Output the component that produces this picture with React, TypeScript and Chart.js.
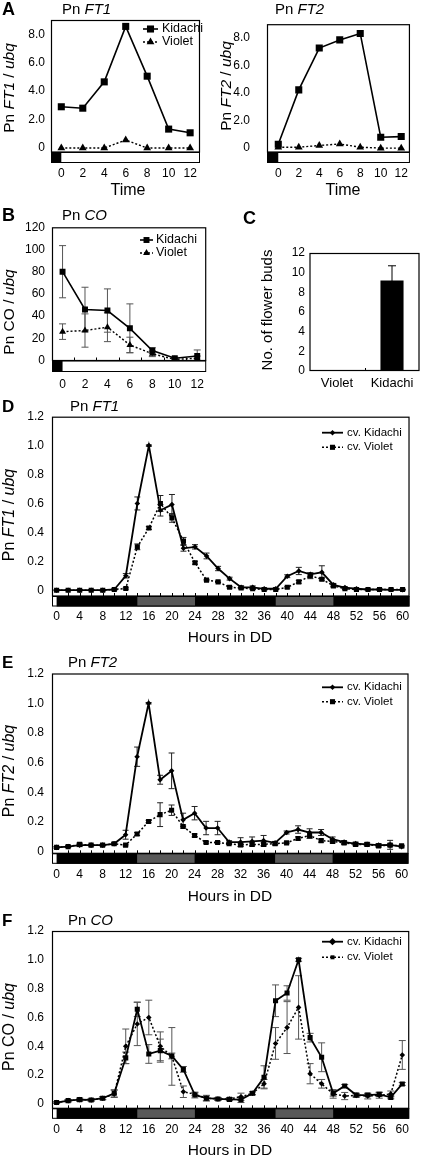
import { useEffect, useRef } from 'react';
import { Chart, registerables } from 'chart.js';

Chart.register(...registerables);

const FONT = '"Liberation Sans", Arial, Helvetica, sans-serif';

// ---------------- Data ----------------
// Panel A (0–12 h after lights-on)
const timeA = [0, 2, 4, 6, 8, 10, 12];
const timeTicksA = [0, 2, 4, 6, 8, 10, 12];
const ratioTicksA = [0, 2, 4, 6, 8];
const ft1KidachiA = [2.9, 2.8, 4.65, 8.55, 5.05, 1.33, 1.07];
const ft1VioletA = [0, 0, 0, 0.56, 0, 0, 0];
const ft2KidachiA = [0.28, 4.23, 7.27, 7.86, 8.33, 0.79, 0.84];
const ft2VioletA = [0.07, 0.07, 0.19, 0.3, 0.07, 0, 0];
const lightsOnA = 0;

// Panel B
const coTicksB = [0, 20, 40, 60, 80, 100, 120];
const coKidachiB = [80, 46, 45, 29, 9, 2, 4];
const coKidachiErrB = [23.5, 20, 19.5, 22, 2.5, 1, 5.5];
const coVioletB = [26, 27, 30, 14, 6, 1, 2];
const coVioletErrB = [7, 15, 13, 7, 2.5, 1, 2];
const minorTicksB = [1, 3, 5, 7, 9, 11];

// Panel C
const budCultivars = ['Violet', 'Kidachi'];
const budCounts = [0, 9.2];
const budErr = [0, 1.5];
const budTicks = [0, 2, 4, 6, 8, 10, 12];

// Panels D–F (continuous darkness)
const hoursDD = [0, 2, 4, 6, 8, 10, 12, 14, 16, 18, 20, 22, 24, 26, 28, 30, 32, 34, 36, 38, 40, 42, 44, 46, 48, 50, 52, 54, 56, 58, 60];
const hourTicksDD = [0, 4, 8, 12, 16, 20, 24, 28, 32, 36, 40, 44, 48, 52, 56, 60];
const relTicksDD = [0, 0.2, 0.4, 0.6, 0.8, 1.0, 1.2];
const darkFromDD = 0;
const subjectiveDayDD: [number, number][] = [[14, 24], [38, 48]];

const ft1KidachiD = [0, 0, 0, 0, 0, 0.005, 0.1, 0.6, 1.0, 0.553, 0.592, 0.29, 0.3, 0.237, 0.15, 0.08, 0.02, 0.02, 0.01, 0.01, 0.097, 0.133, 0.11, 0.124, 0.037, 0.018, 0.01, 0.005, 0.005, 0.003, 0.003];
const ft1KidachiErrD = [0.003, 0.003, 0.003, 0.003, 0.005, 0.005, 0.015, 0.045, 0.005, 0.04, 0.07, 0.02, 0.015, 0.02, 0.015, 0.01, 0.01, 0.01, 0.005, 0.005, 0.01, 0.025, 0.01, 0.045, 0.01, 0.005, 0.005, 0.003, 0.003, 0.003, 0.003];
const ft1VioletD = [0, 0, 0, 0, 0, 0.005, 0.012, 0.3, 0.43, 0.6, 0.5, 0.34, 0.19, 0.07, 0.058, 0.02, 0.015, 0.01, 0.005, 0.005, 0.02, 0.058, 0.1, 0.076, 0.03, 0.01, 0.005, 0.005, 0.005, 0.005, 0.005];
const ft1VioletErrD = [0.003, 0.003, 0.003, 0.003, 0.003, 0.003, 0.005, 0.02, 0.01, 0.055, 0.03, 0.025, 0.01, 0.005, 0.005, 0.005, 0.005, 0.005, 0.003, 0.003, 0.005, 0.01, 0.02, 0.01, 0.008, 0.005, 0.003, 0.003, 0.003, 0.003, 0.003];

const ft2KidachiE = [0.03, 0.035, 0.045, 0.045, 0.045, 0.054, 0.115, 0.64, 1.0, 0.485, 0.545, 0.215, 0.26, 0.16, 0.16, 0.065, 0.065, 0.07, 0.075, 0.06, 0.13, 0.15, 0.13, 0.13, 0.085, 0.065, 0.055, 0.05, 0.045, 0.047, 0.035];
const ft2KidachiErrE = [0.005, 0.005, 0.01, 0.005, 0.005, 0.008, 0.03, 0.065, 0.005, 0.03, 0.12, 0.045, 0.045, 0.045, 0.045, 0.01, 0.03, 0.03, 0.035, 0.01, 0.01, 0.025, 0.025, 0.02, 0.015, 0.01, 0.01, 0.01, 0.01, 0.03, 0.008];
const ft2VioletE = [0.03, 0.035, 0.05, 0.045, 0.045, 0.054, 0.045, 0.12, 0.204, 0.25, 0.28, 0.17, 0.11, 0.063, 0.063, 0.054, 0.047, 0.05, 0.05, 0.055, 0.06, 0.09, 0.11, 0.075, 0.07, 0.06, 0.05, 0.05, 0.04, 0.045, 0.04];
const ft2VioletErrE = [0.005, 0.005, 0.01, 0.005, 0.005, 0.005, 0.005, 0.01, 0.008, 0.08, 0.035, 0.01, 0.01, 0.005, 0.005, 0.005, 0.01, 0.01, 0.01, 0.01, 0.005, 0.01, 0.02, 0.01, 0.01, 0.01, 0.01, 0.01, 0.01, 0.01, 0.005];

const coKidachiF = [0.01, 0.023, 0.03, 0.028, 0.04, 0.074, 0.32, 0.657, 0.347, 0.37, 0.333, 0.24, 0.062, 0.04, 0.035, 0.032, 0.03, 0.074, 0.185, 0.716, 0.77, 1.0, 0.46, 0.324, 0.074, 0.125, 0.062, 0.062, 0.067, 0.046, 0.139];
const coKidachiErrF = [0.005, 0.008, 0.01, 0.008, 0.01, 0.025, 0.04, 0.05, 0.065, 0.08, 0.02, 0.02, 0.02, 0.015, 0.01, 0.01, 0.02, 0.01, 0.08, 0.11, 0.05, 0.01, 0.03, 0.1, 0.02, 0.01, 0.01, 0.01, 0.015, 0.01, 0.01];
const coVioletF = [0.01, 0.023, 0.03, 0.028, 0.04, 0.07, 0.4, 0.555, 0.6, 0.4, 0.33, 0.085, 0.067, 0.04, 0.035, 0.035, 0.05, 0.074, 0.14, 0.42, 0.53, 0.67, 0.21, 0.14, 0.07, 0.055, 0.06, 0.055, 0.06, 0.07, 0.34];
const coVioletErrF = [0.005, 0.008, 0.01, 0.008, 0.01, 0.025, 0.12, 0.15, 0.12, 0.1, 0.2, 0.04, 0.01, 0.02, 0.01, 0.01, 0.025, 0.01, 0.03, 0.11, 0.18, 0.22, 0.07, 0.03, 0.03, 0.025, 0.015, 0.02, 0.02, 0.02, 0.1];

// ---------------- Types ----------------
type Marker = 'rect' | 'rectRot' | 'triangle';
type Series = {
  label: string; x: number[]; y: number[]; err?: number[];
  dashed: boolean; marker: Marker; legendMarker?: Marker; radius: number; width: number;
};
type Txt = { x: number; y: number; parts: [string, boolean][]; size: number; bold?: boolean; rotate?: boolean; align?: CanvasTextAlign };
type Rect = { x: number; y: number; w: number; h: number };
type Area = { l: number; t: number; r: number; b: number };
type LinePanel = {
  rect: Rect; area: Area;
  xMin: number; xMax: number; xTicks: number[]; xPad: number;
  yMin: number; yMax: number; yTicks: number[]; yPad: number; yFmt: (v: number) => string;
  series: Series[]; errColor: string; cap: number;
  bar?: { h: number; darkTo?: number; darkFrom?: number; gray?: [number, number][] };
  innerTicks?: number[];
  legend?: { x0: number; x1: number; tx: number; ys: number[]; size: number; dash: number[] };
  texts: Txt[];
};

// ---------------- Drawing helpers ----------------
function drawMarker(ctx: CanvasRenderingContext2D, m: Marker, x: number, y: number, r: number) {
  ctx.beginPath();
  if (m === 'rect') {
    const s = r * Math.SQRT1_2;
    ctx.rect(x - s, y - s, 2 * s, 2 * s);
  } else if (m === 'rectRot') {
    ctx.moveTo(x, y - r); ctx.lineTo(x + r, y); ctx.lineTo(x, y + r); ctx.lineTo(x - r, y); ctx.closePath();
  } else {
    ctx.moveTo(x, y - r);
    ctx.lineTo(x + r * Math.sin((2 * Math.PI) / 3), y - r * Math.cos((2 * Math.PI) / 3));
    ctx.lineTo(x + r * Math.sin((4 * Math.PI) / 3), y - r * Math.cos((4 * Math.PI) / 3));
    ctx.closePath();
  }
  ctx.fill();
}

function fontStr(size: number, italic: boolean, bold?: boolean) {
  return `${italic ? 'italic ' : ''}${bold ? 'bold ' : ''}${size}px ${FONT}`;
}

function drawTexts(ctx: CanvasRenderingContext2D, rect: Rect, texts: Txt[]) {
  texts.forEach((t) => {
    ctx.save();
    ctx.fillStyle = '#000';
    ctx.textBaseline = 'middle';
    ctx.textAlign = 'left';
    const widths = t.parts.map(([s, it]) => { ctx.font = fontStr(t.size, it, t.bold); return ctx.measureText(s).width; });
    const total = widths.reduce((a, b) => a + b, 0);
    ctx.translate(t.x - rect.x, t.y - rect.y);
    if (t.rotate) ctx.rotate(-Math.PI / 2);
    let cx = t.align === 'left' ? 0 : -total / 2;
    t.parts.forEach(([s, it], i) => {
      ctx.font = fontStr(t.size, it, t.bold);
      ctx.fillText(s, cx, 0);
      cx += widths[i];
    });
    ctx.restore();
  });
}

function linePlugin(cfg: LinePanel) {
  return {
    id: 'panelDecor',
    beforeDatasetsDraw(chart: any) {
      const ctx: CanvasRenderingContext2D = chart.ctx;
      const xs = chart.scales.x, ys = chart.scales.y, a = chart.chartArea;
      ctx.save();
      ctx.strokeStyle = cfg.errColor;
      ctx.lineWidth = 1;
      cfg.series.forEach((s) => {
        if (!s.err) return;
        s.x.forEach((xv, i) => {
          const e = s.err![i];
          if (!e) return;
          const px = xs.getPixelForValue(xv);
          const y1 = ys.getPixelForValue(s.y[i] + e);
          const y2 = Math.min(a.bottom, ys.getPixelForValue(s.y[i] - e));
          ctx.beginPath();
          ctx.moveTo(px, y1); ctx.lineTo(px, y2);
          ctx.moveTo(px - cfg.cap, y1); ctx.lineTo(px + cfg.cap, y1);
          ctx.moveTo(px - cfg.cap, y2); ctx.lineTo(px + cfg.cap, y2);
          ctx.stroke();
        });
      });
      ctx.restore();
    },
    afterDraw(chart: any) {
      const ctx: CanvasRenderingContext2D = chart.ctx;
      const xs = chart.scales.x, a = chart.chartArea;
      ctx.save();
      // photoperiod bar
      if (cfg.bar) {
        const b = cfg.bar;
        const top = a.bottom, h = b.h;
        ctx.fillStyle = '#fff';
        ctx.fillRect(a.left, top, a.right - a.left, h);
        ctx.fillStyle = '#000';
        if (b.darkTo !== undefined) {
          const x2 = xs.getPixelForValue(b.darkTo);
          ctx.fillRect(a.left, top, x2 - a.left, h);
        }
        if (b.darkFrom !== undefined) {
          const x1 = xs.getPixelForValue(b.darkFrom);
          ctx.fillRect(x1, top, a.right - x1, h);
        }
        ctx.fillStyle = '#595959';
        (b.gray || []).forEach(([f, t]) => {
          const x1 = xs.getPixelForValue(f), x2 = xs.getPixelForValue(t);
          ctx.fillRect(x1, top, x2 - x1, h);
        });
        ctx.strokeStyle = '#000';
        ctx.lineWidth = 1;
        ctx.strokeRect(a.left + 0.5, top + 0.5, a.right - a.left - 1, h - 1);
      }
      // inner ticks
      if (cfg.innerTicks) {
        ctx.strokeStyle = '#000';
        ctx.lineWidth = 1;
        ctx.beginPath();
        cfg.innerTicks.forEach((v) => {
          const px = Math.round(xs.getPixelForValue(v)) + 0.5;
          ctx.moveTo(px, a.bottom); ctx.lineTo(px, a.bottom - 3);
        });
        ctx.stroke();
      }
      // box
      ctx.strokeStyle = '#000';
      ctx.lineWidth = 1.2;
      ctx.strokeRect(a.left + 0.5, a.top + 0.5, a.right - a.left - 1, a.bottom - a.top - 0.5);
      // legend
      if (cfg.legend) {
        const L = cfg.legend;
        cfg.series.forEach((s, i) => {
          const y = L.ys[i] - cfg.rect.y;
          const x0 = L.x0 - cfg.rect.x, x1 = L.x1 - cfg.rect.x;
          ctx.strokeStyle = '#000';
          ctx.lineWidth = s.width;
          ctx.setLineDash(s.dashed ? L.dash : []);
          ctx.beginPath(); ctx.moveTo(x0, y); ctx.lineTo(x1, y); ctx.stroke();
          ctx.setLineDash([]);
          ctx.fillStyle = '#000';
          drawMarker(ctx, s.legendMarker || s.marker, (x0 + x1) / 2, y, s.radius);
          ctx.font = fontStr(L.size, false);
          ctx.textBaseline = 'middle';
          ctx.textAlign = 'left';
          ctx.fillText(s.label, L.tx - cfg.rect.x, y);
        });
      }
      ctx.restore();
      drawTexts(ctx, cfg.rect, cfg.texts);
    },
  };
}

function buildLine(canvas: HTMLCanvasElement, cfg: LinePanel) {
  const { rect, area } = cfg;
  return new Chart(canvas, {
    type: 'line',
    data: {
      datasets: cfg.series.map((s) => ({
        label: s.label,
        data: s.x.map((x, i) => ({ x, y: s.y[i] })),
        borderColor: '#000',
        backgroundColor: '#000',
        borderWidth: s.width,
        borderDash: s.dashed ? [2, 2] : [],
        pointStyle: s.marker,
        pointRadius: s.radius,
        pointBackgroundColor: '#000',
        pointBorderColor: '#000',
        pointBorderWidth: 0,
        tension: 0,
        fill: false,
      })) as any,
    },
    options: {
      animation: false,
      responsive: false,
      maintainAspectRatio: false,
      devicePixelRatio: 1,
      events: [],
      layout: { padding: { left: 0, top: area.t - rect.y, right: rect.x + rect.w - area.r, bottom: 0 } },
      plugins: { legend: { display: false }, tooltip: { enabled: false }, title: { display: false } },
      scales: {
        x: {
          type: 'linear', min: cfg.xMin, max: cfg.xMax,
          grid: { display: false, drawTicks: false }, border: { display: false },
          ticks: { padding: cfg.xPad, color: '#000', font: { size: 12, family: FONT, lineHeight: 1.2 }, maxRotation: 0, callback: (v: any) => String(v) },
          afterBuildTicks: (s: any) => { s.ticks = cfg.xTicks.map((v) => ({ value: v })); },
          afterFit: (s: any) => { s.height = rect.y + rect.h - area.b; },
        },
        y: {
          type: 'linear', min: cfg.yMin, max: cfg.yMax,
          grid: { display: false, drawTicks: false }, border: { display: false },
          ticks: { padding: cfg.yPad, color: '#000', font: { size: 12, family: FONT, lineHeight: 1.2 }, callback: (v: any) => cfg.yFmt(Number(v)) },
          afterBuildTicks: (s: any) => { s.ticks = cfg.yTicks.map((v) => ({ value: v })); },
          afterFit: (s: any) => { s.width = area.l - rect.x; },
        },
      },
    } as any,
    plugins: [linePlugin(cfg) as any],
  });
}

// ---------------- Panel configurations ----------------
const dec1 = (v: number) => (v === 0 ? '0' : v.toFixed(1));
const int0 = (v: number) => String(v);

const panelA1: LinePanel = {
  rect: { x: 0, y: 0, w: 212, h: 200 },
  area: { l: 51, t: 20, r: 206, b: 152 },
  xMin: -0.96, xMax: 12.92, xTicks: timeTicksA, xPad: 14.8,
  yMin: -0.28, yMax: 9, yTicks: ratioTicksA, yPad: 6, yFmt: dec1,
  series: [
    { label: 'Kidachi', x: timeA, y: ft1KidachiA, dashed: false, marker: 'rect', radius: 5, width: 1.6 },
    { label: 'Violet', x: timeA, y: ft1VioletA, dashed: true, marker: 'triangle', radius: 4.5, width: 1.4 },
  ],
  errColor: '#000', cap: 3,
  bar: { h: 11, darkTo: lightsOnA },
  legend: { x0: 143, x1: 158, tx: 162, ys: [29, 42], size: 12.5, dash: [2, 2] },
  texts: [
    { x: 2, y: 10, parts: [['A', false]], size: 18, bold: true, align: 'left' },
    { x: 62, y: 10, parts: [['Pn ', false], ['FT1', true]], size: 15, align: 'left' },
    { x: 10, y: 88, parts: [['Pn ', false], ['FT1', true], [' / ', false], ['ubq', true]], size: 15.5, rotate: true },
    { x: 128, y: 191, parts: [['Time', false]], size: 16 },
  ],
};

const panelA2: LinePanel = {
  rect: { x: 212, y: 0, w: 211, h: 200 },
  area: { l: 267, t: 20, r: 418, b: 152 },
  xMin: -1.1, xMax: 12.85, xTicks: timeTicksA, xPad: 14.8,
  yMin: -0.28, yMax: 9, yTicks: ratioTicksA, yPad: 17, yFmt: dec1,
  series: [
    { label: 'Kidachi', x: timeA, y: ft2KidachiA, dashed: false, marker: 'rect', radius: 5, width: 1.6 },
    { label: 'Violet', x: timeA, y: ft2VioletA, dashed: true, marker: 'triangle', radius: 4.5, width: 1.4 },
  ],
  errColor: '#000', cap: 3,
  bar: { h: 11, darkTo: lightsOnA },
  texts: [
    { x: 275, y: 10, parts: [['Pn ', false], ['FT2', true]], size: 15, align: 'left' },
    { x: 227, y: 86, parts: [['Pn ', false], ['FT2', true], [' / ', false], ['ubq', true]], size: 15.5, rotate: true },
    { x: 343, y: 191, parts: [['Time', false]], size: 16 },
  ],
};

const panelB: LinePanel = {
  rect: { x: 0, y: 200, w: 222, h: 192 },
  area: { l: 52, t: 227.3, r: 208.3, b: 360.5 },
  xMin: -0.94, xMax: 12.8, xTicks: timeTicksA, xPad: 17.3,
  yMin: 0, yMax: 120, yTicks: coTicksB, yPad: 7, yFmt: int0,
  series: [
    { label: 'Kidachi', x: timeA, y: coKidachiB, err: coKidachiErrB, dashed: false, marker: 'rect', radius: 4.2, width: 1.6 },
    { label: 'Violet', x: timeA, y: coVioletB, err: coVioletErrB, dashed: true, marker: 'triangle', radius: 4, width: 1.4 },
  ],
  errColor: '#555', cap: 3.5,
  bar: { h: 11.5, darkTo: lightsOnA },
  innerTicks: minorTicksB,
  legend: { x0: 140, x1: 153, tx: 156, ys: [240, 253], size: 12.5, dash: [2, 2] },
  texts: [
    { x: 2, y: 216, parts: [['B', false]], size: 18, bold: true, align: 'left' },
    { x: 62, y: 216, parts: [['Pn ', false], ['CO', true]], size: 15, align: 'left' },
    { x: 10, y: 312, parts: [['Pn CO / ', false], ['ubq', true]], size: 15.5, rotate: true },
  ],
};

const ddBar = { h: 10.5, darkFrom: darkFromDD, gray: subjectiveDayDD };
const ddInner = hoursDD.slice(1, hoursDD.length - 1);

const panelD: LinePanel = {
  rect: { x: 0, y: 392, w: 423, h: 258 },
  area: { l: 52, t: 416.7, r: 411, b: 596 },
  xMin: -0.8, xMax: 61.2, xTicks: hourTicksDD, xPad: 13.5,
  yMin: -0.04, yMax: 1.2, yTicks: relTicksDD, yPad: 8, yFmt: dec1,
  series: [
    { label: 'cv. Kidachi', x: hoursDD, y: ft1KidachiD, err: ft1KidachiErrD, dashed: false, marker: 'rectRot', radius: 2.8, width: 1.8 },
    { label: 'cv. Violet', x: hoursDD, y: ft1VioletD, err: ft1VioletErrD, dashed: true, marker: 'rect', radius: 3.6, width: 1.5 },
  ],
  errColor: '#222', cap: 3,
  bar: ddBar, innerTicks: ddInner,
  legend: { x0: 322, x1: 343, tx: 347, ys: [432.7, 447.3], size: 11.5, dash: [2, 2] },
  texts: [
    { x: 2, y: 407, parts: [['D', false]], size: 17, bold: true, align: 'left' },
    { x: 70, y: 407, parts: [['Pn ', false], ['FT1', true]], size: 15, align: 'left' },
    { x: 10, y: 515, parts: [['Pn ', false], ['FT1', true], [' / ', false], ['ubq', true]], size: 16, rotate: true },
    { x: 230, y: 638, parts: [['Hours in DD', false]], size: 15.5 },
  ],
};

const panelE: LinePanel = {
  rect: { x: 0, y: 650, w: 423, h: 255 },
  area: { l: 52, t: 673.5, r: 411, b: 853.3 },
  xMin: -0.8, xMax: 61.2, xTicks: hourTicksDD, xPad: 14.5,
  yMin: -0.01, yMax: 1.2, yTicks: relTicksDD, yPad: 8, yFmt: dec1,
  series: [
    { label: 'cv. Kidachi', x: hoursDD, y: ft2KidachiE, err: ft2KidachiErrE, dashed: false, marker: 'rectRot', radius: 2.8, width: 1.8 },
    { label: 'cv. Violet', x: hoursDD, y: ft2VioletE, err: ft2VioletErrE, dashed: true, marker: 'rect', radius: 3.6, width: 1.5 },
  ],
  errColor: '#222', cap: 3,
  bar: ddBar, innerTicks: ddInner,
  legend: { x0: 322, x1: 343, tx: 347, ys: [687.3, 701.7], size: 11.5, dash: [2, 2] },
  texts: [
    { x: 2, y: 663, parts: [['E', false]], size: 17, bold: true, align: 'left' },
    { x: 68, y: 663, parts: [['Pn ', false], ['FT2', true]], size: 15, align: 'left' },
    { x: 10, y: 771, parts: [['Pn ', false], ['FT2', true], [' / ', false], ['ubq', true]], size: 16, rotate: true },
    { x: 230, y: 897, parts: [['Hours in DD', false]], size: 15.5 },
  ],
};

const panelF: LinePanel = {
  rect: { x: 0, y: 905, w: 423, h: 254 },
  area: { l: 52, t: 931, r: 411, b: 1108.3 },
  xMin: -0.8, xMax: 61.2, xTicks: hourTicksDD, xPad: 13.8,
  yMin: -0.03, yMax: 1.2, yTicks: relTicksDD, yPad: 8, yFmt: dec1,
  series: [
    { label: 'cv. Kidachi', x: hoursDD, y: coKidachiF, err: coKidachiErrF, dashed: false, marker: 'rect', legendMarker: 'rectRot', radius: 3.6, width: 1.8 },
    { label: 'cv. Violet', x: hoursDD, y: coVioletF, err: coVioletErrF, dashed: true, marker: 'rectRot', legendMarker: 'rect', radius: 2.8, width: 1.5 },
  ],
  errColor: '#555', cap: 3.5,
  bar: ddBar, innerTicks: ddInner,
  legend: { x0: 322, x1: 343, tx: 347, ys: [941.7, 957.3], size: 11.5, dash: [2, 2] },
  texts: [
    { x: 2, y: 921, parts: [['F', false]], size: 17, bold: true, align: 'left' },
    { x: 68, y: 921, parts: [['Pn ', false], ['CO', true]], size: 15, align: 'left' },
    { x: 10, y: 1027, parts: [['Pn CO / ', false], ['ubq', true]], size: 16, rotate: true },
    { x: 230, y: 1151, parts: [['Hours in DD', false]], size: 15.5 },
  ],
};

// Panel C (bar chart)
const rectC: Rect = { x: 222, y: 200, w: 201, h: 192 };
const areaC: Area = { l: 309.5, t: 253, r: 419.5, b: 371 };
const textsC: Txt[] = [
  { x: 243, y: 219, parts: [['C', false]], size: 18, bold: true, align: 'left' },
  { x: 268, y: 310, parts: [['No. of flower buds', false]], size: 15, rotate: true },
];

function buildBar(canvas: HTMLCanvasElement) {
  const plugin = {
    id: 'barDecor',
    afterDraw(chart: any) {
      const ctx: CanvasRenderingContext2D = chart.ctx;
      const xs = chart.scales.x, ys = chart.scales.y, a = chart.chartArea;
      ctx.save();
      ctx.strokeStyle = '#000';
      ctx.lineWidth = 1;
      budCounts.forEach((v, i) => {
        const e = budErr[i];
        if (!e) return;
        const px = xs.getPixelForValue(i);
        const y1 = ys.getPixelForValue(v + e), y2 = ys.getPixelForValue(v - e);
        ctx.beginPath();
        ctx.moveTo(px, y1); ctx.lineTo(px, y2);
        ctx.moveTo(px - 4, y1); ctx.lineTo(px + 4, y1);
        ctx.stroke();
      });
      ctx.beginPath();
      const mid = Math.round(xs.getPixelForValue(0.5)) + 0.5;
      ctx.moveTo(mid, a.bottom); ctx.lineTo(mid, a.bottom - 3);
      ctx.stroke();
      ctx.lineWidth = 1.2;
      ctx.strokeRect(a.left + 0.5, a.top + 0.5, a.right - a.left - 1, a.bottom - a.top - 1);
      ctx.restore();
      drawTexts(ctx, rectC, textsC);
    },
  };
  return new Chart(canvas, {
    type: 'bar',
    data: {
      labels: budCultivars,
      datasets: [{ data: budCounts, backgroundColor: '#000', borderWidth: 0, barPercentage: 0.42, categoryPercentage: 1 }],
    },
    options: {
      animation: false,
      responsive: false,
      maintainAspectRatio: false,
      devicePixelRatio: 1,
      events: [],
      layout: { padding: { left: 0, top: areaC.t - rectC.y, right: rectC.x + rectC.w - areaC.r, bottom: 0 } },
      plugins: { legend: { display: false }, tooltip: { enabled: false } },
      scales: {
        x: {
          type: 'category',
          grid: { display: false, drawTicks: false }, border: { display: false },
          ticks: { padding: 4.2, color: '#000', font: { size: 13, family: FONT, lineHeight: 1.2 }, maxRotation: 0 },
          afterFit: (s: any) => { s.height = rectC.y + rectC.h - areaC.b; },
        },
        y: {
          type: 'linear', min: 0, max: 12,
          grid: { display: false, drawTicks: false }, border: { display: false },
          ticks: { padding: 4.5, color: '#000', font: { size: 12, family: FONT, lineHeight: 1.2 } },
          afterBuildTicks: (s: any) => { s.ticks = budTicks.map((v) => ({ value: v })); },
          afterFit: (s: any) => { s.width = areaC.l - rectC.x; },
        },
      },
    } as any,
    plugins: [plugin as any],
  });
}

// ---------------- Components ----------------
function PanelCanvas({ rect, build }: { rect: Rect; build: (c: HTMLCanvasElement) => Chart }) {
  const ref = useRef<HTMLCanvasElement>(null);
  useEffect(() => {
    const chart = build(ref.current as HTMLCanvasElement);
    return () => chart.destroy();
  }, []);
  return (
    <canvas
      ref={ref}
      width={rect.w}
      height={rect.h}
      style={{ position: 'absolute', left: rect.x, top: rect.y, width: rect.w, height: rect.h }}
    />
  );
}

export default function App() {
  const linePanels = [panelA1, panelA2, panelB, panelD, panelE, panelF];
  return (
    <div style={{ position: 'absolute', left: 0, top: 0, width: 423, height: 1159, background: '#fff', overflow: 'hidden' }}>
      {linePanels.map((p, i) => (
        <PanelCanvas key={i} rect={p.rect} build={(c) => buildLine(c, p)} />
      ))}
      <PanelCanvas rect={rectC} build={buildBar} />
    </div>
  );
}
